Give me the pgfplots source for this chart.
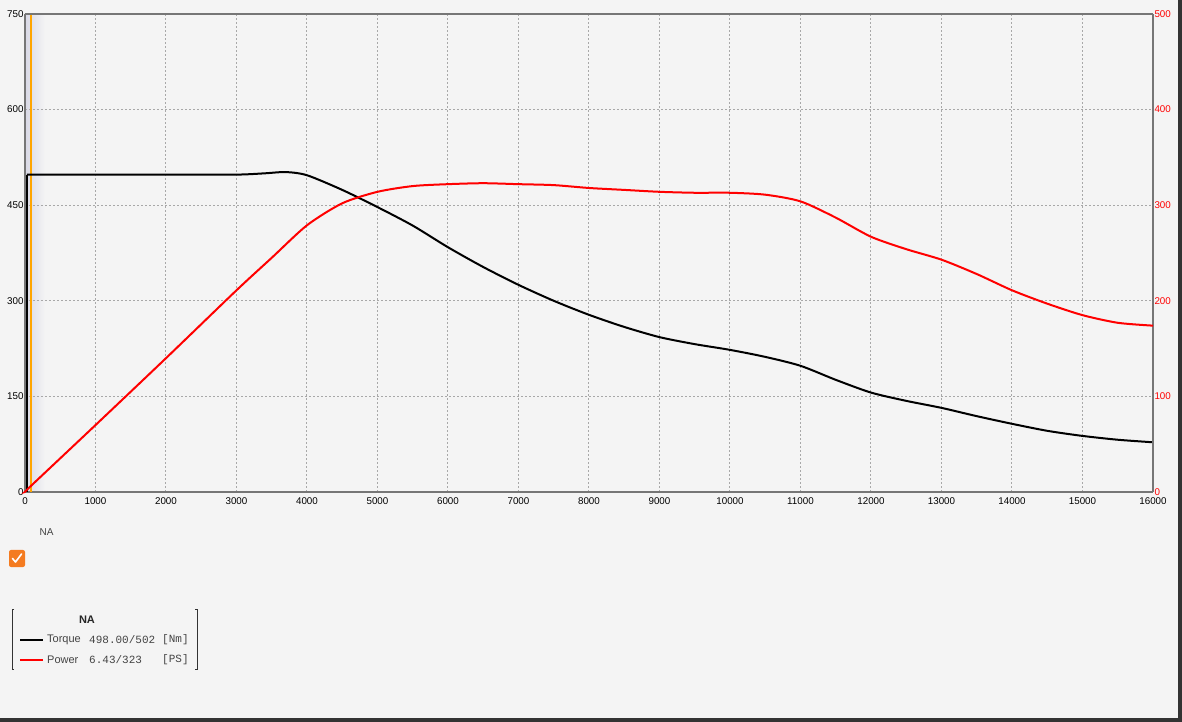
\documentclass[border=0pt]{standalone}
\usepackage{fontspec}
\setmainfont{Liberation Sans}
\setmonofont{Liberation Mono}
\usepackage{pgfplots}
\pgfplotsset{compat=1.18}
\definecolor{bg}{HTML}{F4F4F4}
\definecolor{axgray}{HTML}{767676}
\definecolor{gridgray}{HTML}{A8A8A8}
\definecolor{pred}{HTML}{FF0000}
\definecolor{porange}{HTML}{FFA500}
\definecolor{chk}{HTML}{F47B20}
\definecolor{txtgray}{HTML}{444444}
\begin{document}
\begin{tikzpicture}[x=1pt,y=1pt]
\path[use as bounding box, fill=bg] (-25,-230) rectangle (1157,492);
\fill[black!80] (-25,-230) rectangle (1157,-226);
\fill[black!80] (1153,-230) rectangle (1157,492);
\shade[left color=blue!20!gray!25, right color=bg] (0,0) rectangle (20,478);
\begin{axis}[
  at={(0,0)}, anchor=origin,
  scale only axis, width=1128pt, height=478pt,
  xmin=0, xmax=16000, ymin=0, ymax=750,
  xtick={0,1000,...,16000}, ytick={0,150,...,750},
  axis y line*=left, axis x line*=bottom,
  axis line style={axgray, line width=2.6pt, -},
  grid=major, major grid style={gridgray, dash pattern=on 2pt off 2pt, line width=1pt},
  tick style={draw=none},
  ticklabel style={font=\fontsize{9.8}{11}\selectfont},
  /pgf/number format/assume math mode=true,
  scaled x ticks=false, x tick label style={/pgf/number format/1000 sep={}, yshift=-2pt},
  y tick label style={xshift=2pt},
  clip=false,
]
\addplot[porange, line width=2pt] coordinates {(85,0) (85,750)};
\addplot[black, line width=2pt] coordinates {(28,0) (28,498)};
\addplot[black, line width=2pt, smooth, tension=0.45] coordinates {
(28,498) (1000,498) (2000,498) (3000,498) (3400,500) (3700,502) (4000,497)
(4500,474) (5000,447) (5500,418) (6000,384) (6500,353) (7000,325) (7500,300)
(8000,278) (8500,259) (9000,243) (9500,232) (10000,223) (10500,212) (11000,198)
(11500,176) (12000,156) (12500,143) (13000,132) (13500,119) (14000,107)
(14500,96) (15000,88) (15500,82) (16000,78)};
\end{axis}
\begin{axis}[
  at={(0,0)}, anchor=origin,
  scale only axis, width=1128pt, height=478pt,
  xmin=0, xmax=16000, ymin=0, ymax=500,
  ytick={0,100,...,500},
  axis y line*=right, axis x line=none,
  axis line style={axgray, line width=2.6pt, -},
  tick style={draw=none},
  ticklabel style={font=\fontsize{9.8}{11}\selectfont, text=pred},
  y tick label style={xshift=-2pt},
  /pgf/number format/assume math mode=true,
  clip=false,
]
\addplot[pred, line width=2pt, smooth, tension=0.45] coordinates {
(0,0) (85,6.4) (1000,70) (2000,140) (3000,211) (3500,245) (4000,279) (4500,302)
(5000,314) (5500,320) (6000,322) (6500,323) (7000,322) (7500,321) (8000,318)
(8500,316) (9000,314) (9500,313) (10000,313) (10500,311) (11000,304) (11500,287)
(12000,267) (12500,254) (13000,243) (13500,228) (14000,211) (14500,197)
(15000,185) (15500,177) (16000,174)};
\end{axis}
% top border of frame
\draw[axgray, line width=2.6pt] (0,478) -- (1128,478);
% below-chart elements
\node[anchor=west, text=txtgray, font=\fontsize{10}{12}\selectfont] at (11,-40) {NA};
\fill[chk, rounded corners=2pt] (-16,-58) rectangle (0,-75);
\draw[white, line width=1.6pt, line cap=round, line join=round] (-12.5,-66.5) -- (-9.5,-70) -- (-3.5,-62);
% legend
\draw[black!80, line width=0.8pt] (-11,-117) -- (-13,-117) -- (-13,-177) -- (-11,-177);
\draw[black!80, line width=0.8pt] (170,-117) -- (172,-117) -- (172,-177) -- (170,-177);
\node[font=\bfseries\fontsize{11}{13}\selectfont, text=black!85] at (62,-128) {NA};
\draw[black, line width=2pt] (-5,-148) -- (18,-148);
\draw[pred, line width=2pt] (-5,-168) -- (18,-168);
\node[anchor=west, inner sep=0pt, text=txtgray, font=\fontsize{11}{13}\selectfont] at (22,-148) {Torque};
\node[anchor=west, inner sep=0pt, text=txtgray, font=\ttfamily\fontsize{11}{13}\selectfont] at (64,-148) {498.00/502};
\node[anchor=west, inner sep=0pt, text=txtgray, font=\ttfamily\fontsize{11}{13}\selectfont] at (137,-148) {[Nm]};
\node[anchor=west, inner sep=0pt, text=txtgray, font=\fontsize{11}{13}\selectfont] at (22,-168) {Power};
\node[anchor=west, inner sep=0pt, text=txtgray, font=\ttfamily\fontsize{11}{13}\selectfont] at (64,-168) {6.43/323};
\node[anchor=west, inner sep=0pt, text=txtgray, font=\ttfamily\fontsize{11}{13}\selectfont] at (137,-168) {[PS]};
\end{tikzpicture}
\end{document}
